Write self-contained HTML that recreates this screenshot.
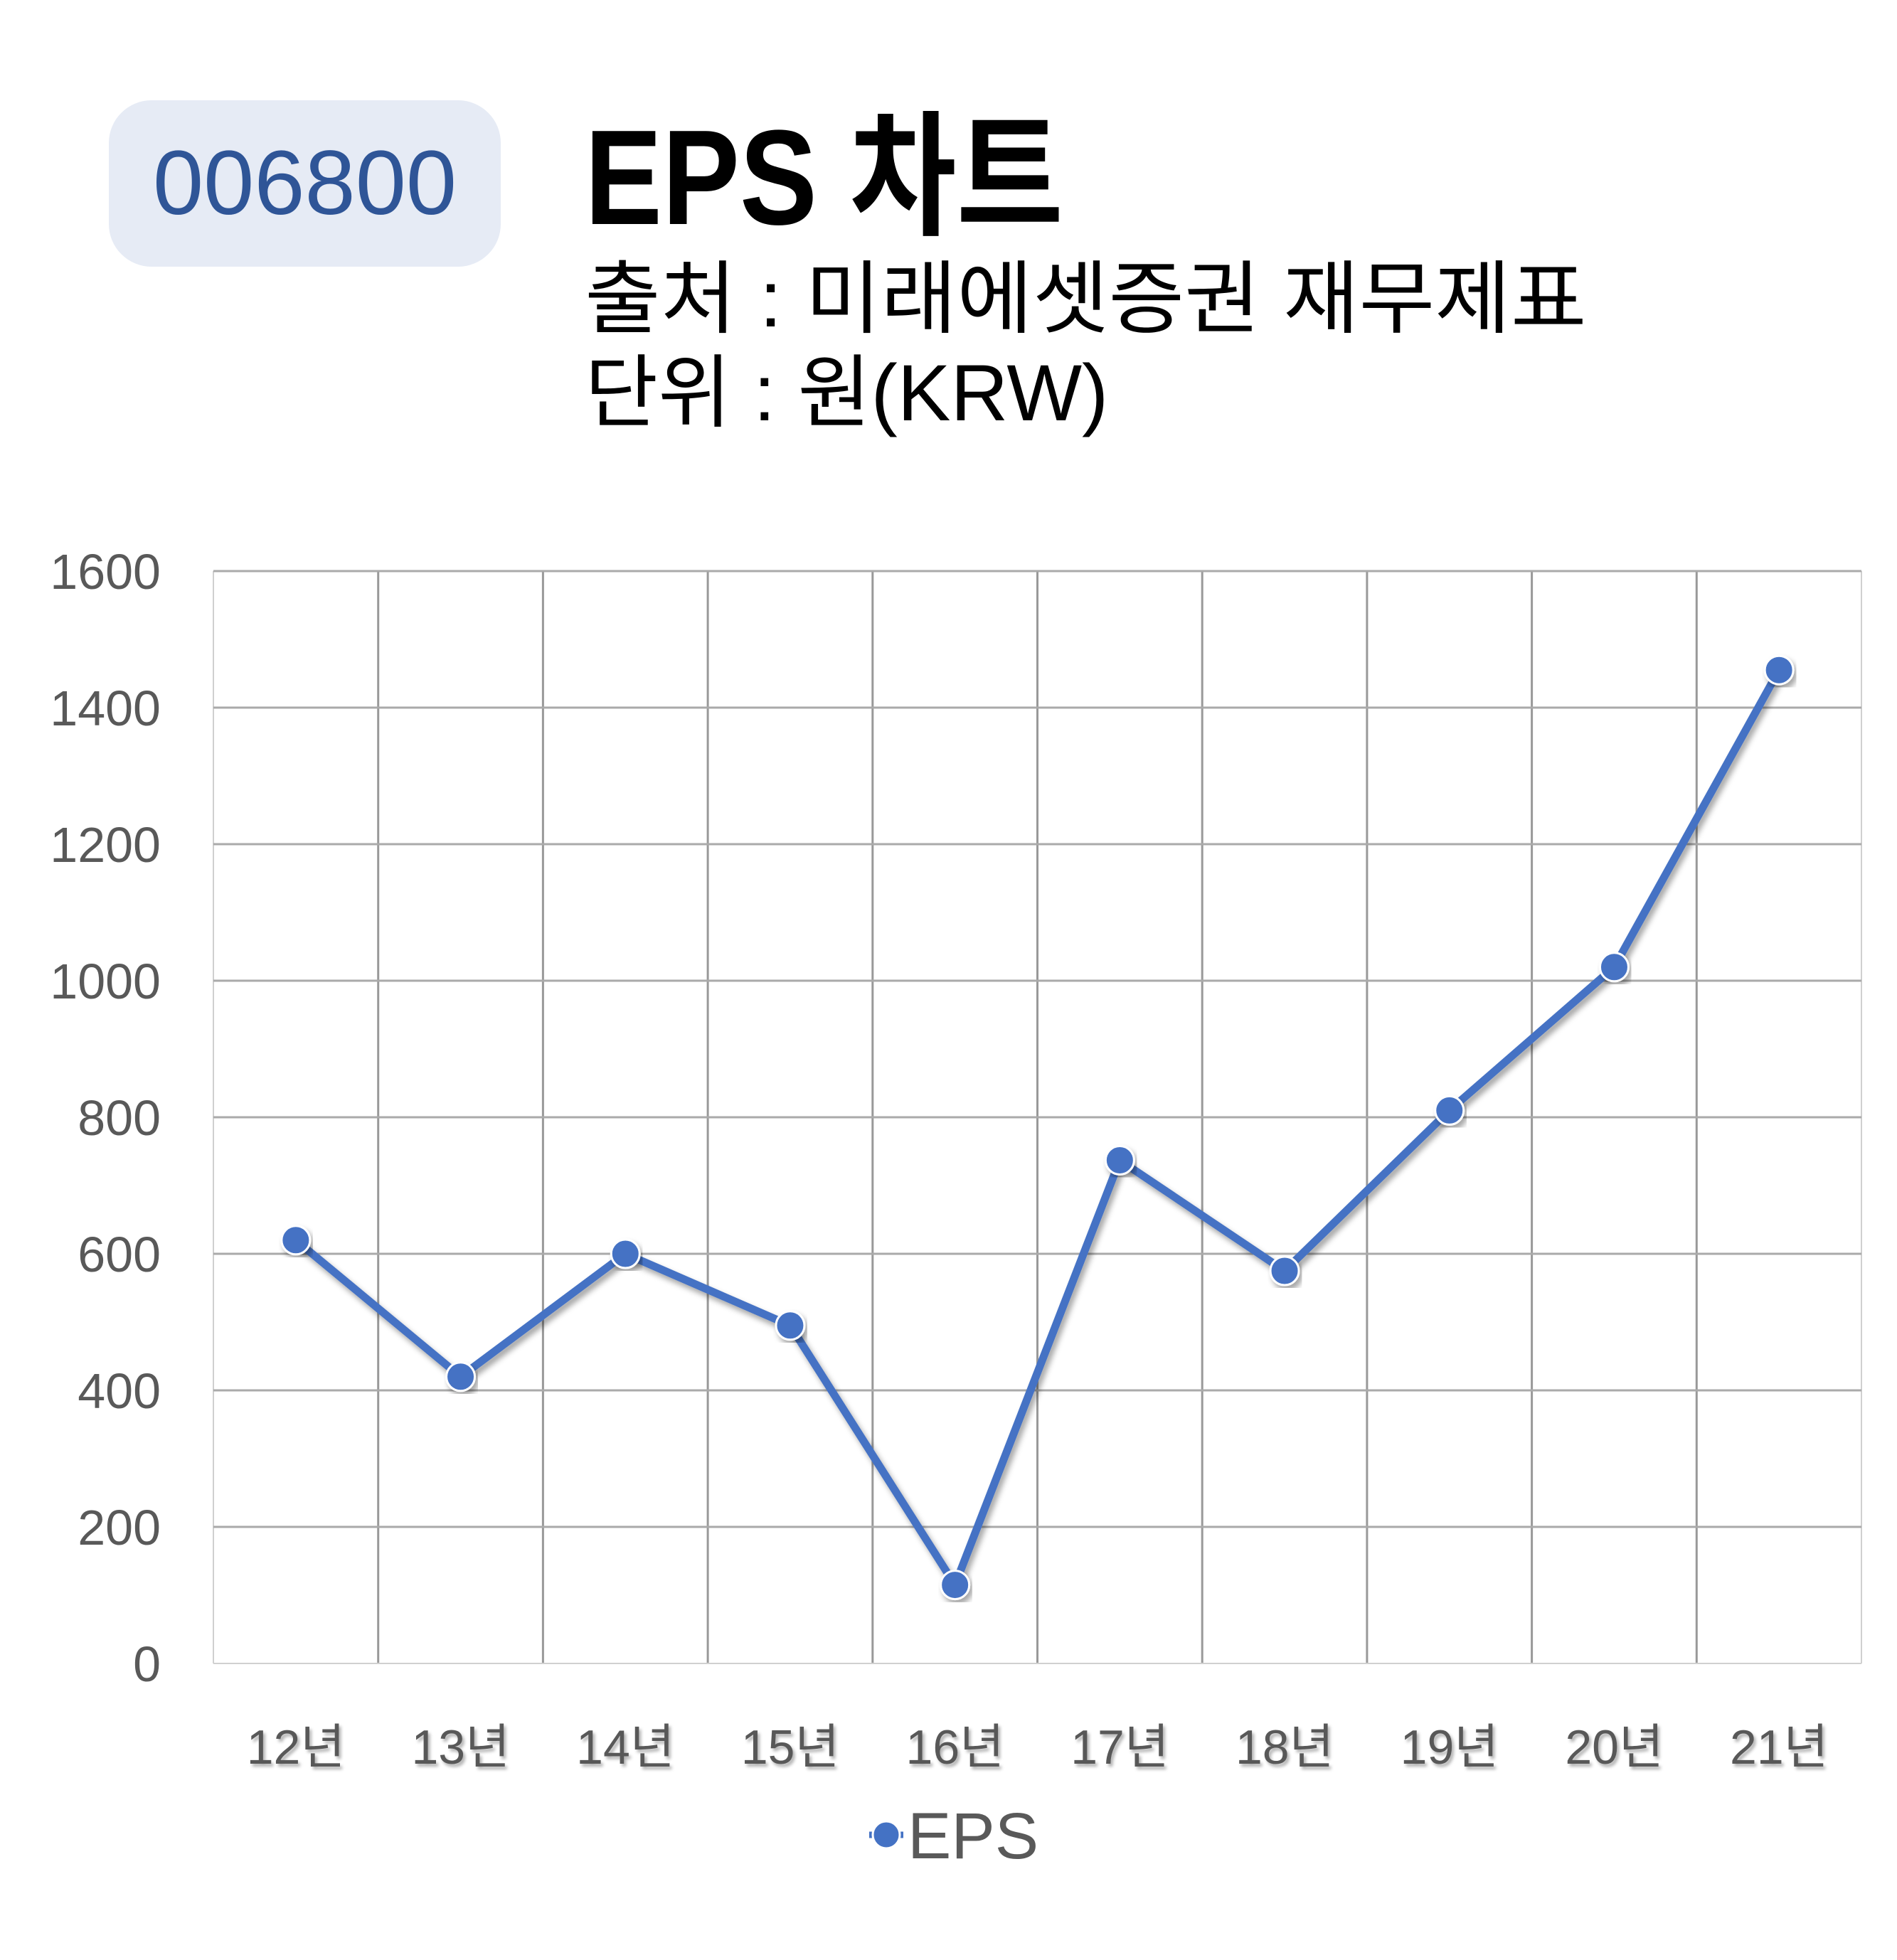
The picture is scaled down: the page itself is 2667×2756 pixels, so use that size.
<!DOCTYPE html>
<html><head><meta charset="utf-8"><style>
html,body{margin:0;padding:0;background:#fff;}
body{width:2667px;height:2756px;position:relative;overflow:hidden;font-family:"Liberation Sans","Noto Sans CJK KR",sans-serif;}
</style></head><body>
<div style="position:absolute;left:153px;top:141px;width:551px;height:234px;border-radius:60px;background:#e6ebf5;"></div>
<div style="position:absolute;left:153px;top:141px;width:551px;height:234px;line-height:234px;text-align:center;font-size:128px;color:#2f5597;">006800</div>
<div style="position:absolute;left:822px;top:150px;font-size:190px;font-weight:bold;line-height:200px;color:#000;white-space:nowrap;transform:scaleX(0.86);transform-origin:0 0;">EPS 차트</div>
<div style="position:absolute;left:822px;top:356px;font-size:112px;line-height:130px;color:#000;white-space:nowrap;transform:scaleX(1.035);transform-origin:0 0;">출처 : 미래에셋증권 재무제표</div>
<div style="position:absolute;left:822px;top:488px;font-size:112px;line-height:130px;color:#000;white-space:nowrap;">단위 : 원(KRW)</div>
<svg id="chart" width="2667" height="2756" style="position:absolute;left:0;top:0;">
<defs><filter id="sh" x="-10%" y="-10%" width="120%" height="120%"><feDropShadow dx="4" dy="6" stdDeviation="4" flood-color="#000" flood-opacity="0.35"/></filter>
<filter id="tsh"><feDropShadow dx="3" dy="4" stdDeviation="2" flood-color="#000" flood-opacity="0.3"/></filter></defs>
</svg>
<script>
const categories=["12년","13년","14년","15년","16년","17년","18년","19년","20년","21년"];
const epsValues=[620,420,600,495,115,737,575,810,1020,1455];
const yTicks=[0,200,400,600,800,1000,1200,1400,1600];
const legendLabel="EPS";
const svg=document.getElementById('chart');
const NS='http://www.w3.org/2000/svg';
const L=300,R=2617,T=803,B=2339,yMax=1600;
const y=v=>B-(v/yMax)*(B-T);
const bw=(R-L)/categories.length;
const x=i=>L+bw*(i+0.5);
function mk(tag,attrs){const e=document.createElementNS(NS,tag);for(const k in attrs)e.setAttribute(k,attrs[k]);svg.appendChild(e);return e;}
for(let i=0;i<=categories.length;i++){
  const gx=L+bw*i;
  const edge=(i==0||i==categories.length);
  const ln=mk('line',{x1:gx,x2:gx,y1:T,y2:B,stroke:edge?'#d0d0d0':'#999999','stroke-width':edge?2:3});
  
  
}
yTicks.forEach(t=>{
  const ln=mk('line',{x1:L,x2:R,y1:y(t),y2:y(t),stroke:t==0?'#d0d0d0':'#aaaaaa','stroke-width':t==0?2:3});
  
  
  const tx=mk('text',{x:226,y:y(t)+25,'text-anchor':'end','font-size':70,fill:'#595959','font-family':'Liberation Sans, sans-serif'});
  tx.textContent=t;
  
  
});
categories.forEach((c,i)=>{
  const tx=mk('text',{x:x(i),y:2480,'text-anchor':'middle','font-size':68,fill:'#595959',filter:'url(#tsh)','font-family':'Liberation Sans, Noto Sans CJK KR, sans-serif'});
  tx.textContent=c;
  
  
});
const pts=epsValues.map((v,i)=>x(i)+','+y(v)).join(' ');
const pl=mk('polyline',{points:pts,fill:'none',stroke:'#4472c4','stroke-width':11,'stroke-linejoin':'round',filter:'url(#sh)'});


epsValues.forEach((v,i)=>{
  const c=mk('circle',{cx:x(i),cy:y(v),r:20,fill:'#4472c4',stroke:'#fff','stroke-width':3,filter:'url(#sh)'});
  
  
});
const lm=mk('line',{x1:1222,x2:1270,y1:2580,y2:2580,stroke:'#4472c4','stroke-width':9});


const lc=mk('circle',{cx:1246,cy:2580,r:19,fill:'#4472c4',stroke:'#fff','stroke-width':3});


const lt=mk('text',{x:1276,y:2613,'font-size':92,fill:'#595959','font-family':'Liberation Sans, sans-serif'});
lt.textContent=legendLabel;


</script>
</body></html>
